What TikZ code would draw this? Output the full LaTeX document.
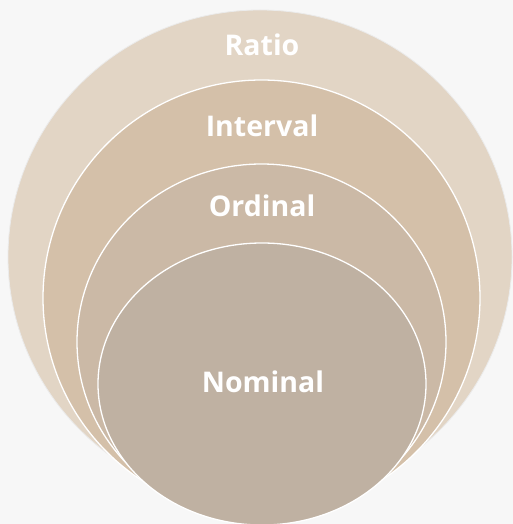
\documentclass[tikz,border=0pt]{standalone}
\usepackage{fontspec}
\setmainfont{Open Sans}[Ligatures=NoCommon]
\begin{document}
\begin{tikzpicture}[x=1pt,y=-1pt,
  ring/.style={draw=white,line width=1.3pt},
  label/.style={text=white,font=\bfseries\fontsize{28.5}{30}\selectfont,anchor=base,inner sep=0pt}]
\definecolor{bg}{HTML}{F7F7F7}
\definecolor{ratioc}{HTML}{E2D5C5}
\definecolor{intervalc}{HTML}{D4C0A9}
\definecolor{ordinalc}{HTML}{CBB9A6}
\definecolor{nominalc}{HTML}{BFB1A2}
\useasboundingbox (0,0) rectangle (513,524);
\fill[bg] (0,0) rectangle (513,524);
% nested levels of measurement
\path[fill=ratioc,draw=black!8,line width=0.8pt] (260,257) ellipse [x radius=252,y radius=247];
\path[ring,fill=intervalc] (261.5,298) ellipse [x radius=218.5,y radius=218];
\path[ring,fill=ordinalc] (261.5,342) ellipse [x radius=184.5,y radius=178];
\path[ring,fill=nominalc] (262,384) ellipse [x radius=164,y radius=141];
\node[label] (ratio) at (262,56) {Ratio};
\node[label] (interval) at (262,136) {Interval};
\node[label] (ordinal) at (262,216.5) {Ordinal};
\node[label] (nominal) at (263,392) {Nominal};
\end{tikzpicture}
\end{document}
